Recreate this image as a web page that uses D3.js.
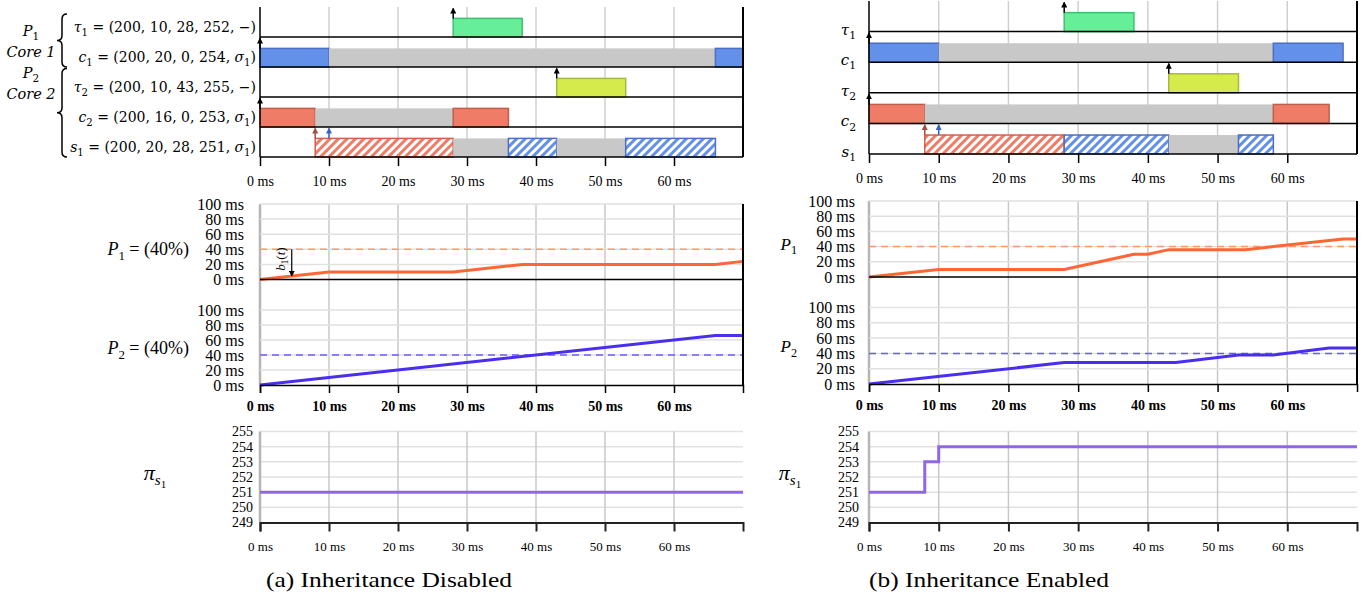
<!DOCTYPE html>
<html>
<head>
<meta charset="utf-8">
<script src="https://cdn.jsdelivr.net/npm/d3@7"></script>
<style>
  body { margin: 0; background: #fff; }
  text { font-family: "Liberation Serif", serif; fill: #000; }
  .math { font-family: "DejaVu Serif", serif; }
</style>
</head>
<body>
<div id="chart"></div>
<script>
// ---- data ----
const msTicks = [0, 10, 20, 30, 40, 50, 60]
const budgetTicks = [0, 20, 40, 60, 80, 100]
const prioTicks = [249, 250, 251, 252, 253, 254, 255]

// gantt rows: name, subscript, parameters, lock
const rowNames = ["τ", "c", "τ", "c", "s"]
const rowSubs = ["1", "1", "2", "2", "1"]
const rowParams = ["200, 10, 28, 252", "200, 20, 0, 254", "200, 10, 43, 255", "200, 16, 0, 253", "200, 20, 28, 251"]
const rowLocks = ["−", "σ", "−", "σ", "σ"]

// [row, start, end, kind]
const segsDisabled = [
  [0, 28, 38, "green"],
  [1, 0, 10, "blue"], [1, 10, 66, "gray"], [1, 66, 70, "blue"],
  [2, 43, 53, "yellow"],
  [3, 0, 8, "red"], [3, 8, 28, "gray"], [3, 28, 36, "red"],
  [4, 8, 28, "redHatch"], [4, 28, 36, "gray"], [4, 36, 43, "blueHatch"], [4, 43, 53, "gray"], [4, 53, 66, "blueHatch"]
]
const segsEnabled = [
  [0, 28, 38, "green"],
  [1, 0, 10, "blue"], [1, 10, 58, "gray"], [1, 58, 68, "blue"],
  [2, 43, 53, "yellow"],
  [3, 0, 8, "red"], [3, 8, 58, "gray"], [3, 58, 66, "red"],
  [4, 8, 28, "redHatch"], [4, 28, 43, "blueHatch"], [4, 43, 53, "gray"], [4, 53, 58, "blueHatch"]
]
// [row, time, colour]
const releases = [[0, 28, "black"], [1, 0, "black"], [2, 43, "black"], [3, 0, "black"], [4, 8, "brown"], [4, 10, "blue"]]

// budget consumption [t, ms]
const budgetP1Disabled = [[0, 0], [10, 10], [28, 10], [38, 20], [66, 20], [70, 24]]
const budgetP2Disabled = [[0, 0], [66, 66], [70, 66]]
const budgetP1Enabled = [[0, 0], [10, 10], [28, 10], [38, 30], [40, 30], [43, 36], [54, 36], [58, 40], [68, 50], [70, 50]]
const budgetP2Enabled = [[0, 0], [28, 28], [44, 28], [53, 38], [58, 38], [66, 47], [70, 47]]
const budgetLimit = 40

// priority of s1 [t, prio]
const prioDisabled = [[0, 251], [70, 251]]
const prioEnabled = [[0, 251], [8, 253], [10, 254], [70, 254]]

// ---- styles ----
const fills = {
  green: ["#66ee99", "#3fbf70"], blue: ["#6391ea", "#4b6fc4"], yellow: ["#d5eb4b", "#a8ba3a"],
  red: ["#ef7c66", "#c25f4c"], gray: ["#c8c8c8", "none"],
  redHatch: ["url(#hatch-red)", "#d0614d"], blueHatch: ["url(#hatch-blue)", "#4b6fc4"]
}
const arrowColors = { black: "#000", brown: "#a0513d", blue: "#3d62c6" }

const svg = d3.select("#chart").append("svg")
    .attr("width", 1366)
    .attr("height", 597)

const defs = svg.append("defs")
;[["red", "#ef7c66"], ["blue", "#6391ea"]].forEach(([n, c]) => {
  const p = defs.append("pattern")
      .attr("id", "hatch-" + n)
      .attr("patternUnits", "userSpaceOnUse")
      .attr("width", 6).attr("height", 6)
      .attr("patternTransform", "rotate(45)")
  p.append("rect").attr("width", 6).attr("height", 6).attr("fill", "#fff")
  p.append("rect").attr("width", 3).attr("height", 6).attr("fill", c)
})
Object.entries(arrowColors).forEach(([n, c]) => {
  defs.append("marker")
      .attr("id", "arrow-" + n)
      .attr("viewBox", "0 -3 6 6")
      .attr("refX", 5).attr("refY", 0)
      .attr("markerUnits", "userSpaceOnUse")
      .attr("markerWidth", 6).attr("markerHeight", 6)
      .attr("orient", "auto")
    .append("path").attr("d", "M0,-3L6,0L0,3Z").attr("fill", c)
})

// text with italic variables and subscripts: pieces [text, "i"|"sub"|""]
function mathText(g, x, y, anchor, size, pieces, cls) {
  const t = g.append("text")
      .attr("class", cls || "math")
      .attr("x", x).attr("y", y)
      .attr("text-anchor", anchor)
      .attr("font-size", size)
  let down = false
  pieces.forEach(([s, k]) => {
    const ts = t.append("tspan").text(s)
    if (k === "i" || k === "isub") ts.attr("font-style", "italic")
    if (k === "sub" || k === "isub") {
      ts.attr("font-size", size * 0.72).attr("dy", down ? 0 : size * 0.28)
      down = true
    } else if (down) {
      ts.attr("dy", -size * 0.28)
      down = false
    }
  })
  return t
}

const panels = [
  { x0: 260, x1: 743, gTop: 7, gBot: 157, p1: [279.5, 204], p2: [385, 310], pr: [522.5, 431.5],
    segs: segsDisabled, b1: budgetP1Disabled, b2: budgetP2Disabled, prio: prioDisabled,
    full: true, caption: "(a) Inheritance Disabled", capX: 389, capW: 246 },
  { x0: 869, x1: 1357, gTop: 1, gBot: 154, p1: [277, 201], p2: [384, 307.5], pr: [522.5, 431.5],
    segs: segsEnabled, b1: budgetP1Enabled, b2: budgetP2Enabled, prio: prioEnabled,
    full: false, caption: "(b) Inheritance Enabled", capX: 989, capW: 240 }
]

panels.forEach(p => {
  const g = svg.append("g")
  const x = d3.scaleLinear().domain([0, 70]).range([p.x0, p.x1])
  const row = d3.scaleBand().domain(d3.range(5)).range([p.gTop, p.gBot])
  const rh = row.bandwidth()
  const barH = rh * 0.62

  // ---- gantt ----
  g.append("g").selectAll("line")
    .data(msTicks.slice(1))
    .join("line")
      .attr("x1", d => x(d)).attr("x2", d => x(d))
      .attr("y1", p.gTop).attr("y2", p.gBot)
      .attr("stroke", "#cfcfcf").attr("stroke-width", 1.5)

  g.append("g").selectAll("rect")
    .data(p.segs)
    .join("rect")
      .attr("x", d => x(d[1]))
      .attr("y", d => row(d[0]) + rh - barH)
      .attr("width", d => x(d[2]) - x(d[1]))
      .attr("height", barH)
      .attr("fill", d => fills[d[3]][0])
      .attr("stroke", d => fills[d[3]][1])
      .attr("stroke-width", 1.5)

  g.append("g").selectAll("line")
    .data(d3.range(5))
    .join("line")
      .attr("x1", p.x0).attr("x2", p.x1)
      .attr("y1", d => row(d) + rh).attr("y2", d => row(d) + rh)
      .attr("stroke", "#000").attr("stroke-width", 1.5)

  g.append("line").attr("x1", p.x1).attr("x2", p.x1).attr("y1", p.gTop).attr("y2", p.gBot)
    .attr("stroke", "#000").attr("stroke-width", 2)
  g.append("line").attr("x1", p.x0).attr("x2", p.x0).attr("y1", p.gTop).attr("y2", p.gBot)
    .attr("stroke", "#000").attr("stroke-width", 1.5)

  g.append("g").selectAll("line")
    .data(releases)
    .join("line")
      .attr("x1", d => x(d[1])).attr("x2", d => x(d[1]))
      .attr("y1", d => row(d[0]) + rh - barH)
      .attr("y2", d => row(d[0]) + 1.5)
      .attr("stroke", d => arrowColors[d[2]])
      .attr("stroke-width", 1.5)
      .attr("marker-end", d => "url(#arrow-" + d[2] + ")")

  const gx = g.append("g")
      .attr("transform", "translate(0," + p.gBot + ")")
      .call(d3.axisBottom(x).tickValues(msTicks).tickSize(9).tickPadding(10).tickFormat(d => d + " ms"))
  gx.select(".domain").remove()
  gx.selectAll(".tick line").attr("stroke", "#000").attr("stroke-width", 1.5)
  gx.selectAll("text").attr("font-size", 14)

  // gantt row labels
  d3.range(5).forEach(i => {
    if (p.full) {
      const pieces = [[rowNames[i], "i"], [rowSubs[i], "sub"], [" = (" + rowParams[i] + ", "]]
      if (rowLocks[i] === "σ") pieces.push(["σ", "i"], ["1", "sub"], [")"])
      else pieces.push(["−)"])
      mathText(g, p.x0 - 4, row(i) + rh - 5, "end", 14, pieces)
    } else {
      mathText(g, p.x0 - 13, row(i) + rh + 3, "end", 15, [[rowNames[i], "i"], [rowSubs[i], "sub"]])
    }
  })

  if (p.full) {
    // braces grouping rows per core
    const brace = (bx, y1, y2, w) => {
      const ym = (y1 + y2) / 2
      return `M${bx + w},${y1} Q${bx},${y1} ${bx},${y1 + w} L${bx},${ym - w} Q${bx},${ym} ${bx - w},${ym}` +
        ` Q${bx},${ym} ${bx},${ym + w} L${bx},${y2 - w} Q${bx},${y2} ${bx + w},${y2}`
    }
    g.append("path").attr("d", brace(62, row(0) + 7, row(1) + rh, 5))
      .attr("fill", "none").attr("stroke", "#000").attr("stroke-width", 1.5)
    g.append("path").attr("d", brace(62, row(2) + 1.5, row(4) + rh, 5))
      .attr("fill", "none").attr("stroke", "#000").attr("stroke-width", 1.5)
    mathText(g, 31, row(1) - 1, "middle", 14.5, [["P", "i"], ["1", "sub"]])
    mathText(g, 31, row(1) + 20, "middle", 14.5, [["Core 1", "i"]])
    mathText(g, 31, row(3) - 19, "middle", 14.5, [["P", "i"], ["2", "sub"]])
    mathText(g, 31, row(3) + 2, "middle", 14.5, [["Core 2", "i"]])
  }

  // ---- budget charts ----
  const y1 = d3.scaleLinear().domain([0, 100]).range(p.p1)
  const y2 = d3.scaleLinear().domain([0, 100]).range(p.p2)

  g.append("g").selectAll("line")
    .data(msTicks)
    .join("line")
      .attr("x1", d => x(d)).attr("x2", d => x(d))
      .attr("y1", y1(100)).attr("y2", y2(0))
      .attr("stroke", d => d === 0 ? "#b5b5b5" : "#c8c8c8")
      .attr("stroke-width", d => d === 0 ? 2.5 : 1.5)

  ;[y1, y2].forEach((y, k) => {
    g.append("g").selectAll("line")
      .data(budgetTicks.slice(1))
      .join("line")
        .attr("x1", p.x0).attr("x2", p.x1)
        .attr("y1", d => y(d)).attr("y2", d => y(d))
        .attr("stroke", "#e1e1e1").attr("stroke-width", 1.5)

    g.append("line")
      .attr("x1", p.x0).attr("x2", p.x1)
      .attr("y1", y(budgetLimit)).attr("y2", y(budgetLimit))
      .attr("stroke", k === 0 ? "#ff9a66" : "#6a5cf0")
      .attr("stroke-width", 1.5)
      .attr("stroke-dasharray", "7,5")

    const gy = g.append("g")
        .attr("transform", "translate(" + p.x0 + ",0)")
        .call(d3.axisLeft(y).tickValues(budgetTicks).tickSize(0).tickPadding(p.full ? 16 : 14).tickFormat(d => d + " ms"))
    gy.select(".domain").remove()
    gy.selectAll("text").attr("font-size", 16)

    const line = d3.line().x(d => x(d[0])).y(d => y(d[1]))
    g.append("path")
      .datum(k === 0 ? p.b1 : p.b2)
      .attr("d", line)
      .attr("fill", "none")
      .attr("stroke", k === 0 ? "#ff6633" : "#4a2ef0")
      .attr("stroke-width", 3)
  })

  g.append("line").attr("x1", p.x0).attr("x2", p.x1).attr("y1", y1(0)).attr("y2", y1(0))
    .attr("stroke", "#000").attr("stroke-width", 1.5)
  g.append("line").attr("x1", p.x1).attr("x2", p.x1).attr("y1", y1(100)).attr("y2", y2(0))
    .attr("stroke", "#000").attr("stroke-width", 2)

  const bx = g.append("g")
      .attr("transform", "translate(0," + y2(0) + ")")
      .call(d3.axisBottom(x).tickValues(msTicks).tickSize(8).tickPadding(8).tickFormat(d => d + " ms"))
  bx.select(".domain").attr("stroke", "#000").attr("stroke-width", 1.5)
  bx.selectAll(".tick line").attr("stroke", "#000").attr("stroke-width", 1.5)
  bx.selectAll("text").attr("font-size", 14).attr("font-weight", "bold")

  if (p.full) {
    mathText(g, 189, y1(40) + 6, "end", 18, [["P", "i"], ["1", "sub"], [" = (40%)"]], "serif")
    mathText(g, 189, y2(49) + 6, "end", 18, [["P", "i"], ["2", "sub"], [" = (40%)"]], "serif")
    // b1(t) annotation
    g.append("line")
      .attr("x1", x(4.6)).attr("x2", x(4.6))
      .attr("y1", y1(40)).attr("y2", y1(5))
      .attr("stroke", "#000").attr("stroke-width", 1.2)
      .attr("marker-end", "url(#arrow-black)")
    mathText(g, 0, 0, "middle", 13, [["b", "i"], ["1", "sub"], ["("], ["t", "i"], [")"]], "serif")
      .attr("transform", "translate(" + (x(4.6) - 7) + "," + y1(27) + ") rotate(-90)")
  } else {
    mathText(g, 797, y1(44) + 6, "end", 17, [["P", "i"], ["1", "sub"]], "serif")
    mathText(g, 797, y2(50) + 6, "end", 17, [["P", "i"], ["2", "sub"]], "serif")
  }

  // ---- priority chart ----
  const yp = d3.scaleLinear().domain([249, 255]).range(p.pr)

  g.append("g").selectAll("line")
    .data(prioTicks.slice(1))
    .join("line")
      .attr("x1", p.x0).attr("x2", p.x1)
      .attr("y1", d => yp(d)).attr("y2", d => yp(d))
      .attr("stroke", "#e1e1e1").attr("stroke-width", 1.5)
  g.append("g").selectAll("line")
    .data(msTicks)
    .join("line")
      .attr("x1", d => x(d)).attr("x2", d => x(d))
      .attr("y1", yp(255)).attr("y2", yp(249))
      .attr("stroke", d => d === 0 ? "#b5b5b5" : "#c8c8c8")
      .attr("stroke-width", d => d === 0 ? 2.5 : 1.5)

  g.append("path")
    .datum(p.prio)
    .attr("d", d3.line().curve(d3.curveStepAfter).x(d => x(d[0])).y(d => yp(d[1])))
    .attr("fill", "none")
    .attr("stroke", "#9066e6")
    .attr("stroke-width", 3)

  const py = g.append("g")
      .attr("transform", "translate(" + p.x0 + ",0)")
      .call(d3.axisLeft(yp).tickValues(prioTicks).tickSize(0).tickPadding(p.full ? 7 : 10).tickFormat(d3.format("d")))
  py.select(".domain").remove()
  py.selectAll("text").attr("font-size", 14)

  const px = g.append("g")
      .attr("transform", "translate(0," + yp(249) + ")")
      .call(d3.axisBottom(x).tickValues(msTicks).tickSize(9).tickPadding(10).tickFormat(d => d + " ms"))
  px.select(".domain").attr("stroke", "#222").attr("stroke-width", 2)
  px.selectAll(".tick line").attr("stroke", "#222").attr("stroke-width", 2)
  px.selectAll("text").attr("font-size", 13)

  // π_s1 label
  const lx = p.full ? 155 : 790
  const pt = g.append("text").attr("x", lx).attr("y", yp(252) + 3).attr("text-anchor", "middle").attr("font-size", 22)
  pt.append("tspan").attr("font-style", "italic").text("π")
  pt.append("tspan").attr("font-style", "italic").attr("font-size", 15).attr("dy", 5).text("s")
  pt.append("tspan").attr("font-size", 11).attr("dy", 3).text("1")

  g.append("text")
      .attr("x", p.capX).attr("y", 587)
      .attr("text-anchor", "middle")
      .attr("font-size", 22)
      .attr("textLength", p.capW)
      .attr("lengthAdjust", "spacingAndGlyphs")
      .text(p.caption)
})
</script>
</body>
</html>
